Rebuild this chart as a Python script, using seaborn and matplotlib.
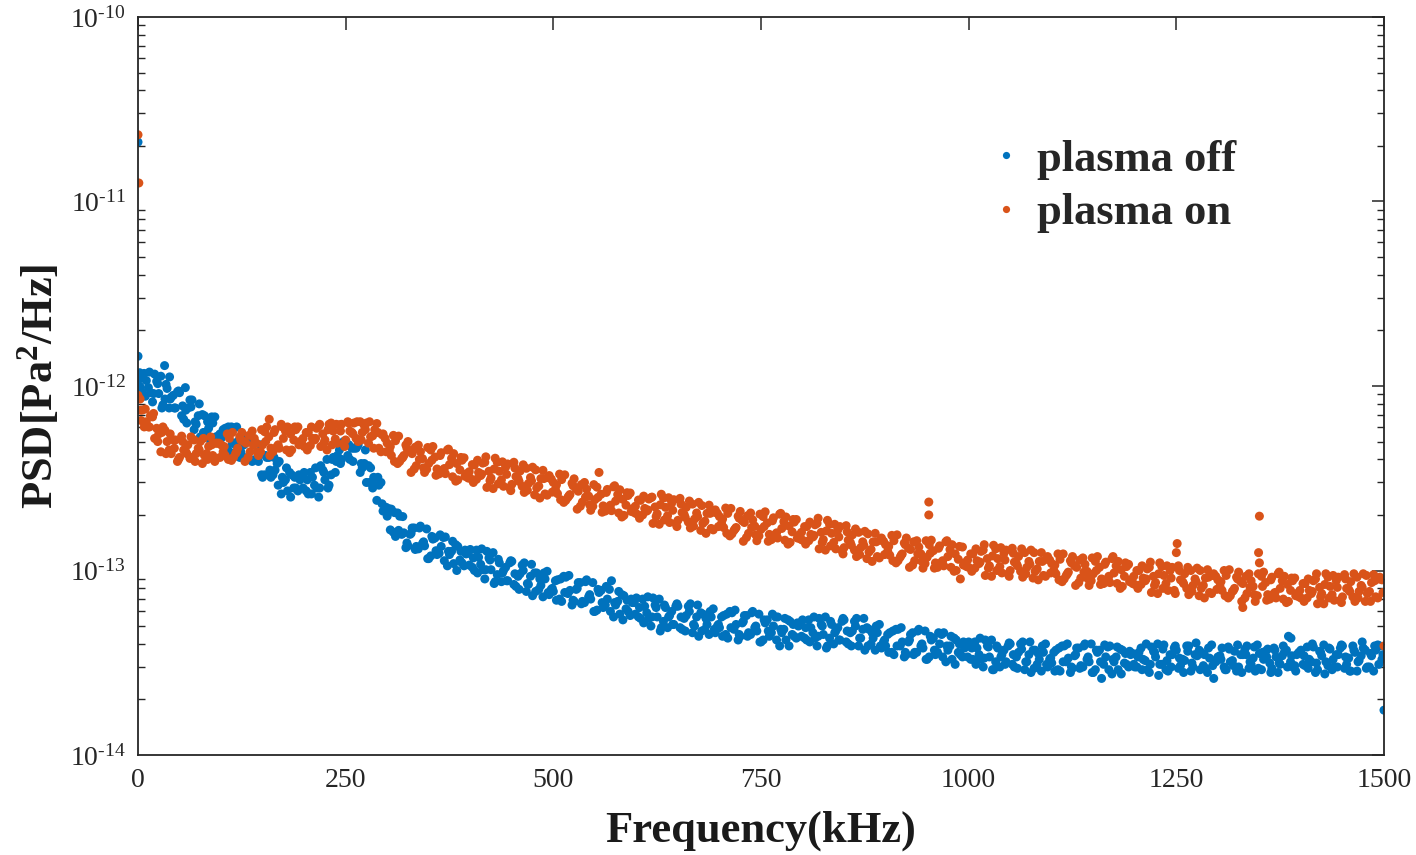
import numpy as np
import pandas as pd
import seaborn as sns
import matplotlib
matplotlib.use("Agg")
import matplotlib.pyplot as plt
from matplotlib.ticker import LogLocator, NullFormatter, FixedLocator

# ---------------- data (PSD values in units of 1e-14 Pa^2/Hz) ----------------
freq = np.arange(0, 1501, 5)         # kHz, grid A (0..1500)
freq_mid = np.arange(2.5, 1500, 5)   # kHz, grid B
freq_q = np.arange(3.75, 1500, 5)    # kHz, grid C

psd_off = [
    145, 92, 107, 92, 116, 91, 79, 97, 87, 76, 92, 66, 76, 84, 62, 53, 69, 59, 63, 51,
    52, 59, 44, 59, 50, 42, 52, 40, 50, 39, 32, 41, 32, 35, 39, 30, 27, 33, 28, 31,
    34, 26, 32, 28, 37, 31, 29, 41, 42, 40, 50, 40, 46, 48, 36, 30, 36, 29, 29, 21,
    19.7, 21.5, 15.3, 19.7, 16, 13.6, 17, 13.5, 17.4, 13.6, 11.6, 14.8, 12.2, 13.5, 15.2, 12.2, 10.9, 13.5, 11, 12.3,
    13, 10, 11.8, 10.1, 12.7, 10.1, 8.7, 11, 10, 8.8, 11.2, 8.2, 9.6, 11, 8.4, 7.3, 9.7, 8.3, 9, 7.4,
    7.7, 8.9, 6.8, 9.2, 7.8, 6.8, 8.6, 6.8, 8.9, 7.0, 6.0, 7.6, 6.3, 7.0, 8.8, 6.5, 5.8, 7.3, 6.0, 6.7,
    7.1, 5.5, 6.4, 5.5, 7.1, 5.6, 4.9, 6.3, 5.7, 5.1, 6.4, 4.8, 5.7, 6.6, 5.0, 4.4, 5.8, 5.1, 5.6, 4.6,
    4.9, 5.7, 4.3, 5.9, 5.1, 4.4, 5.7, 4.6, 6.0, 4.7, 4.1, 5.2, 4.4, 5.0, 5.6, 4.6, 4.2, 5.3, 4.4, 5.0,
    5.4, 4.2, 4.9, 4.3, 5.5, 4.5, 3.9, 5.1, 4.7, 4.2, 5.4, 4.0, 4.7, 5.5, 4.3, 3.7, 4.8, 4.3, 4.6, 3.8,
    3.9, 4.6, 3.5, 4.8, 4.1, 3.5, 4.5, 3.6, 4.8, 3.8, 3.3, 4.2, 3.5, 4.0, 4.6, 3.7, 3.3, 4.2, 3.5, 3.8,
    4.1, 3.3, 3.8, 3.3, 4.2, 3.4, 2.9, 3.8, 3.5, 3.2, 4.0, 3.0, 3.6, 4.1, 3.2, 2.8, 3.7, 3.3, 3.6, 3.0,
    3.15, 3.7, 2.85, 3.9, 3.35, 2.95, 3.8, 3.05, 4.0, 3.2, 2.8, 3.6, 2.6, 3.4, 3.9, 3.2, 2.9, 3.7, 3.1, 3.5,
    3.0, 3.6, 3.3, 2.9, 3.85, 3.4, 3.1, 3.95, 2.85, 3.5, 3.7, 3.05, 3.25, 3.9, 3.0, 3.45, 3.6, 2.95, 3.35, 2.6,
    3.4, 3.8, 2.9, 3.2, 3.65, 3.0, 3.5, 3.9, 3.1, 2.85, 3.55, 3.3, 3.75, 2.95, 3.4, 3.1, 3.6, 4.4, 3.0, 3.5,
    3.7, 3.05, 3.3, 3.85, 2.9, 3.45, 3.2, 3.75, 3.0, 3.5, 3.9, 3.1, 2.85, 3.6, 3.25, 3.8, 3.0, 3.45, 3.7, 3.9,
    1.75,
]

psd_off_mid = [
    99, 117, 98, 82, 106, 113, 85, 76, 89, 93, 69, 74, 84, 58, 69, 70, 56, 50, 68, 54,
    58, 46, 60, 48, 41, 48, 51, 39, 40, 48, 33, 41, 33, 38, 26, 31, 34, 28, 27, 32,
    27, 34, 29, 25, 35, 40, 33, 34, 45, 50, 42, 46, 46, 34, 38, 37, 28, 24, 30, 21,
    21.6, 16.1, 20.5, 15.7, 13.3, 15.7, 17, 13.1, 14, 16.8, 12, 15, 12.4, 15.1, 10.6, 12.7, 13.8, 11.4, 10.6, 12.4,
    10.4, 12.9, 10.8, 9.0, 11.7, 12.5, 9.5, 8.7, 10.4, 11, 8.4, 9.3, 10.7, 7.7, 9.3, 9.7, 7.9, 7.2, 9.9, 7.9,
    8.8, 7.0, 9.3, 7.5, 6.5, 7.9, 8.6, 6.7, 7.2, 8.6, 6.1, 7.8, 6.5, 7.9, 5.6, 6.8, 7.4, 6.2, 5.7, 6.7,
    5.6, 7.0, 5.9, 5.0, 6.5, 7.0, 5.3, 4.9, 6.0, 6.4, 4.9, 5.5, 6.4, 4.6, 5.6, 5.9, 4.8, 4.5, 6.2, 5.0,
    5.6, 4.5, 6.0, 4.8, 4.2, 5.2, 5.7, 4.5, 4.9, 5.8, 4.2, 5.4, 4.6, 5.6, 3.9, 4.8, 5.4, 4.5, 4.3, 5.1,
    4.3, 5.4, 4.6, 3.9, 5.1, 5.6, 4.3, 4.0, 4.9, 5.3, 4.1, 4.6, 5.3, 3.9, 4.8, 4.9, 4.0, 3.7, 5.1, 4.1,
    4.5, 3.6, 4.8, 3.9, 3.4, 4.1, 4.6, 3.6, 3.9, 4.7, 3.4, 4.3, 3.6, 4.5, 3.2, 3.9, 4.3, 3.6, 3.4, 3.9,
    3.3, 4.1, 3.5, 3.0, 3.9, 4.2, 3.2, 3.0, 3.7, 3.9, 3.1, 3.4, 4.0, 2.9, 3.5, 3.7, 3.1, 2.85, 4.0, 3.3,
    3.6, 2.9, 3.9, 3.2, 2.8, 3.45, 3.8, 3.0, 3.3, 4.0, 2.9, 3.7, 3.1, 3.85, 2.75, 3.4, 3.75, 3.15, 3.0, 3.55,
    3.0, 3.8, 3.25, 2.8, 3.65, 4.0, 3.1, 2.9, 3.5, 3.8, 2.95, 3.3, 3.9, 2.85, 3.5, 3.7, 3.05, 2.8, 3.95, 3.2,
    3.45, 3.0, 3.85, 3.25, 2.85, 3.5, 3.75, 2.95, 3.35, 3.95, 2.9, 3.65, 3.15, 3.8, 2.8, 3.45, 3.7, 3.2, 3.05, 3.6,
    3.1, 3.85, 3.2, 2.8, 3.65, 3.95, 3.05, 2.9, 3.5, 3.8, 2.95, 3.35, 3.9, 2.85, 3.45, 3.7, 3.0, 2.85, 3.95, 3.3,
]

psd_off_q = [
    110, 88, 119, 91, 103, 76, 102, 85, 76, 94, 78, 63, 77, 64, 80, 56, 64, 68, 53, 55,
    46, 60, 49, 60, 44, 49, 40, 50, 41, 33, 42, 35, 41, 29, 32, 36, 25, 32, 33, 28,
    31, 26, 36, 28, 34, 28, 40, 39, 38, 49, 48, 39, 47, 38, 45, 30, 32, 32, 23, 22,
    16.6, 20.6, 16.5, 19.6, 14.1, 15.9, 13, 17, 14.3, 11.6, 15.3, 12.8, 15.6, 11.3, 12.7, 14.4, 10, 12.7, 12.9, 10.7,
    11.7, 9.7, 13.1, 10.1, 11.4, 8.5, 11.5, 9.7, 8.8, 11.3, 9.6, 7.9, 10, 8.5, 10.8, 7.7, 9.0, 9.7, 7.6, 8.0,
    6.9, 9.0, 7.6, 9.4, 6.9, 8.0, 6.6, 8.7, 7.4, 6.0, 7.9, 6.7, 8.2, 6.0, 6.7, 7.7, 5.4, 6.9, 7.0, 5.8,
    6.3, 5.2, 7.2, 5.6, 6.3, 4.7, 6.5, 5.6, 5.1, 6.6, 5.6, 4.7, 6.0, 5.1, 6.5, 4.7, 5.5, 6.0, 4.8, 5.1,
    4.4, 5.8, 4.9, 6.1, 4.5, 5.3, 4.4, 5.9, 5.0, 4.1, 5.4, 4.7, 5.8, 4.2, 4.8, 5.5, 3.9, 5.1, 5.2, 4.4,
    4.9, 4.1, 5.6, 4.4, 5.0, 3.8, 5.3, 4.6, 4.2, 5.5, 4.7, 3.9, 5.0, 4.3, 5.5, 3.9, 4.6, 5.0, 3.9, 4.2,
    3.6, 4.7, 3.9, 4.9, 3.6, 4.2, 3.5, 4.7, 4.0, 3.3, 4.4, 3.7, 4.6, 3.4, 3.9, 4.4, 3.1, 4.0, 4.1, 3.4,
    3.8, 3.1, 4.3, 3.35, 3.85, 2.9, 3.9, 3.4, 3.1, 4.05, 3.5, 2.95, 3.75, 3.2, 4.1, 2.95, 3.55, 3.9, 3.1, 3.35,
    2.85, 3.8, 3.2, 4.0, 3.0, 3.5, 2.95, 3.9, 3.4, 2.8, 3.7, 3.2, 3.95, 2.9, 3.3, 3.85, 2.75, 3.55, 3.65, 3.1,
    3.4, 2.9, 4.0, 3.1, 3.6, 2.7, 3.75, 3.25, 3.0, 3.9, 3.35, 2.8, 3.65, 3.15, 4.05, 2.9, 3.5, 3.8, 3.05, 3.3,
    3.3, 2.9, 3.75, 3.05, 3.95, 2.8, 3.5, 3.2, 3.85, 2.95, 3.6, 3.4, 2.8, 3.7, 3.15, 3.9, 3.0, 3.45, 2.85, 3.6,
    3.45, 2.95, 4.0, 3.15, 3.6, 2.75, 3.8, 3.3, 3.0, 3.95, 3.4, 2.85, 3.7, 3.2, 4.1, 2.95, 3.55, 3.9, 3.1, 3.5,
]

psd_on = [
    89, 74, 64, 69, 52, 55, 60, 50, 43, 51, 41, 45, 48, 41, 43, 50, 42, 47, 42, 49,
    48, 42, 52, 41, 46, 56, 49, 44, 52, 42, 48, 60, 46, 58, 46, 52, 60, 45, 58, 50,
    47, 56, 52, 59, 47, 51, 62, 57, 49, 62, 51, 57, 63, 50, 56, 63, 53, 58, 46, 55,
    49, 42, 50.5, 39, 42, 50, 43, 37, 44, 34, 38, 47, 35.5, 43.5, 33.5, 37.5, 43, 31, 39.6, 33.4,
    31.6, 37.3, 34, 38.2, 28.2, 31.7, 40.6, 34.5, 28.6, 37.8, 29.3, 32.3, 34.6, 26.5, 29.6, 36.3, 28, 31.5, 26, 32.7,
    30, 26.1, 31.1, 24, 25.8, 31.4, 26.9, 23.5, 27.6, 21.2, 24.2, 34, 22.4, 27.5, 21.1, 23.8, 27.4, 19.9, 25.5, 21.6,
    20.3, 24, 21.7, 24.4, 18, 20.3, 25.9, 22, 18.2, 24.2, 18.7, 20.6, 22, 17, 19, 23.4, 18, 20.4, 16.9, 21.3,
    19.6, 17.1, 20.4, 15.8, 17.1, 20.9, 18.2, 15.9, 18.8, 14.5, 16.7, 20.8, 15.7, 19.3, 15, 16.9, 19.5, 14.2, 18.3, 15.5,
    14.6, 17.3, 15.7, 17.7, 13.1, 14.7, 18.7, 15.9, 13.1, 17.3, 13.3, 14.6, 15.6, 11.9, 13.3, 16.3, 12.6, 14.3, 11.9, 15,
    13.8, 12.1, 14.5, 11.3, 12.3, 15, 13, 11.3, 13.4, 10.3, 11.8, 14.6, 11, 13.6, 10.6, 11.9, 13.8, 10, 9.0, 11,
    10.4, 12.3, 11.3, 12.7, 9.4, 10.6, 13.7, 11.6, 9.7, 12.9, 10, 11.1, 11.9, 9.2, 10.4, 12.9, 9.9, 11.2, 9.4, 11.9,
    10.9, 9.6, 11.5, 9, 9.8, 11.9, 10.4, 9.1, 10.8, 8.3, 9.6, 11.9, 9, 11.1, 8.6, 9.7, 11.2, 8.2, 10.5, 8.9,
    8.4, 10, 9.1, 10.2, 7.6, 8.6, 11, 9.4, 7.8, 10.4, 12.5, 8.9, 9.6, 7.4, 8.3, 10.3, 8.0, 9.1, 7.6, 9.6,
    8.9, 7.8, 9.4, 7.3, 8.0, 9.8, 8.5, 7.5, 8.8, 6.8, 11.0, 9.8, 7.4, 9.2, 7.1, 8.0, 9.3, 6.8, 8.8, 7.5,
    7.1, 8.5, 7.8, 8.8, 6.6, 7.5, 9.6, 8.2, 6.9, 9.2, 7.2, 8.0, 8.7, 6.8, 7.7, 9.6, 7.5, 8.6, 7.2, 9.2,
    3.9,
]

psd_on_mid = [
    85, 60, 60, 68, 59, 44, 57.5, 45, 51, 39, 53.5, 44, 40.5, 51, 46, 38, 43, 53, 39, 49,
    44, 55, 39.5, 43, 53, 50, 41, 57, 49, 44, 56.5, 53, 44, 47, 62, 57, 43.5, 51, 60, 48,
    56, 47.6, 51, 60.5, 55, 45, 63, 51.6, 61.6, 48.6, 64, 56, 52, 64, 61, 49, 53.7, 62.6, 44, 52,
    44.6, 54, 38, 40.5, 47.9, 44.2, 35.5, 47.8, 40.4, 35.4, 45, 41.2, 33.4, 35.1, 45, 40.5, 30.5, 35.1, 40.8, 31.7,
    37.5, 31.2, 32.7, 38.6, 34.5, 27.8, 38.6, 31, 36.3, 28.1, 38.6, 31.5, 28.6, 35.8, 31.9, 25.7, 28.7, 34.9, 25.6, 31.3,
    27.5, 33.3, 23.4, 24.9, 29.7, 27.7, 22.3, 30, 25.3, 22.3, 28.3, 25.9, 21, 22.2, 28.4, 25.8, 19.5, 22.6, 26.3, 20.6,
    24.1, 20, 21, 24.8, 22.1, 17.8, 24.7, 19.8, 23.2, 18, 24.6, 20.1, 18.3, 22.9, 20.5, 16.5, 18.5, 22.6, 16.6, 20.4,
    18, 21.8, 15.4, 16.5, 19.7, 18.6, 15.1, 20.5, 17.4, 15.4, 19.6, 18.1, 14.7, 15.7, 20.2, 18.4, 13.9, 16.2, 18.9, 14.8,
    17.3, 14.5, 15.2, 18, 16.1, 12.9, 17.8, 14.2, 16.6, 12.8, 17.5, 14.2, 12.9, 16.1, 14.3, 11.6, 13, 15.9, 11.7, 14.4,
    12.7, 15.5, 11, 11.8, 14.1, 13.2, 10.7, 14.5, 12.3, 10.9, 13.8, 12.8, 10.4, 11.1, 14.3, 13, 9.9, 11.5, 13.4, 10.5,
    12.3, 10.3, 10.9, 12.9, 11.6, 9.3, 13.1, 10.5, 12.4, 9.6, 13.2, 10.9, 9.9, 12.5, 11.2, 9.1, 10.2, 12.5, 9.3, 11.4,
    10, 12.3, 8.7, 9.4, 11.3, 10.6, 8.6, 11.7, 9.9, 8.8, 11.2, 10.4, 8.5, 9, 11.6, 10.6, 8, 9.3, 10.8, 8.5,
    10, 8.4, 8.8, 10.4, 9.3, 7.5, 10.5, 8.5, 10, 7.8, 10.6, 8.7, 8, 10, 9, 7.3, 8.3, 10.1, 7.5, 9.3,
    8.2, 10, 7.1, 7.7, 9.2, 8.7, 7.1, 9.6, 8.2, 7.3, 9.3, 8.6, 7.0, 7.5, 9.6, 8.8, 6.7, 7.8, 9.1, 7.2,
    8.5, 7.1, 7.5, 9.0, 8.1, 6.6, 9.2, 7.4, 8.8, 6.9, 9.5, 7.9, 7.2, 9.2, 8.3, 6.8, 7.7, 9.5, 7.1, 8.9,
]

psd_on_q = [
    65, 75, 60, 71, 50, 56, 43, 55, 46, 40, 50, 43, 53, 39, 45, 52, 40, 48, 49, 41,
    47, 40, 56, 44, 51, 39, 54, 48, 44, 58, 50, 42, 56, 48, 60, 45, 55, 60, 48, 52,
    45, 60, 52, 62, 49, 58, 48, 62, 57, 47, 63, 55, 64, 51, 58, 64, 46, 56, 54.5, 44,
    47, 39, 53.5, 41, 46, 34, 46.6, 40, 36, 46.4, 39.6, 32.8, 42, 35.7, 45.5, 32.2, 38, 41, 32.4, 34.3,
    30, 39.6, 33.3, 41.3, 30.7, 35.5, 29.5, 38.8, 33.2, 27.1, 35.9, 30.4, 37.4, 27.2, 30.6, 35.1, 24.7, 31.5, 31.9, 26.6,
    29.1, 24.2, 33, 25.4, 28.8, 21.5, 29.2, 25, 22.7, 29.2, 24.9, 20.7, 26.5, 22.6, 28.8, 20.5, 24.3, 26.4, 20.9, 22.3,
    19.2, 25.3, 21.3, 25, 19.6, 22.7, 18.8, 24.8, 21.2, 17.3, 22.9, 19.4, 23.8, 17.4, 19.6, 22.5, 15.9, 20.4, 20.7, 17.3,
    19, 15.9, 21.7, 16.8, 19.2, 14.4, 19.8, 17.1, 15.6, 20.2, 17.3, 14.4, 18.6, 16, 20.4, 14.6, 17.4, 18.9, 15, 16.1,
    13.9, 18.3, 15.5, 19.2, 14.2, 16.4, 13.6, 17.8, 15.2, 12.3, 16.2, 13.7, 16.8, 12.2, 13.7, 15.8, 11.2, 14.3, 14.6, 12.2,
    13.5, 11.3, 15.6, 12.1, 13.8, 10.4, 14.3, 12.3, 11.2, 14.5, 12.4, 10.3, 13.2, 11.3, 14.5, 10.4, 12.3, 13.5, 10.7, 11.4,
    9.9, 13.1, 11.1, 13.8, 10.3, 12, 10, 13.3, 11.4, 9.3, 12.4, 10.6, 13.1, 9.6, 10.8, 12.5, 8.9, 11.2, 11.5, 9.7,
    10.7, 8.9, 12.3, 9.6, 11, 8.3, 11.4, 9.8, 9, 11.7, 10, 8.4, 10.8, 9.3, 11.9, 8.5, 10.1, 11, 8.7, 9.3,
    8, 10.6, 9, 11.1, 8.3, 9.6, 8, 10.6, 9.1, 7.5, 10, 8.5, 10.4, 7.7, 8.7, 10, 7.1, 9.2, 9.4, 7.9,
    8.7, 7.3, 10.1, 7.8, 9, 6.8, 9.3, 8.1, 7.4, 9.6, 8.2, 6.9, 8.9, 7.6, 9.8, 7, 8.4, 9.1, 7.3, 7.8,
    6.8, 9.0, 7.7, 9.6, 7.2, 8.4, 7.1, 9.4, 8.1, 6.7, 9.0, 7.7, 9.6, 7.1, 8.1, 9.4, 6.8, 8.8, 9.0, 7.6,
]

# isolated points (frequency kHz, PSD in 1e-14)
extra_off_f = [0, 1, 2, 32, 38, 57, 1388]
extra_off_v = [2100, 100, 118, 129, 112, 98, 4.3]
extra_on_f = [0, 1, 3, 952, 952, 1251, 1349, 1350, 1330, 158]
extra_on_v = [2300, 1260, 74, 23.5, 20.0, 14.0, 12.5, 19.7, 6.3, 66]

series_names = ["plasma off", "plasma on"]
series_colors = ["#0072BD", "#D95319"]
unit = 1e-14

x_ticks = [0, 250, 500, 750, 1000, 1250, 1500]
y_exps = [-14, -13, -12, -11, -10]

# ---------------- build table ----------------
df_off = pd.DataFrame({
    "f": np.concatenate([freq, freq_mid, freq_q, extra_off_f]),
    "psd": np.concatenate([psd_off, psd_off_mid, psd_off_q, extra_off_v]) * unit,
    "series": series_names[0],
})
df_on = pd.DataFrame({
    "f": np.concatenate([freq, freq_mid, freq_q, extra_on_f]),
    "psd": np.concatenate([psd_on, psd_on_mid, psd_on_q, extra_on_v]) * unit,
    "series": series_names[1],
})
df = pd.concat([df_off, df_on], ignore_index=True)

# ---------------- style ----------------
sns.set_style("white")
plt.rcParams["font.family"] = ["Liberation Serif", "DejaVu Serif"]
plt.rcParams["mathtext.fontset"] = "custom"
plt.rcParams["mathtext.rm"] = "Liberation Serif"
plt.rcParams["mathtext.it"] = "Liberation Serif:italic"
plt.rcParams["mathtext.bf"] = "Liberation Serif:bold"

fig = plt.figure(figsize=(14.16, 8.55), dpi=100)
ax = fig.add_axes([138 / 1416, 1 - 755 / 855, (1384 - 138) / 1416, (755 - 17) / 855])

sns.scatterplot(data=df, x="f", y="psd", hue="series", hue_order=series_names,
                palette=series_colors, s=42, edgecolor="none", linewidth=0,
                alpha=1.0, ax=ax, legend=True)

ax.set_yscale("log")
ax.set_xlim(0, 1500)
ax.set_ylim(1e-14, 1e-10)

ax.xaxis.set_major_locator(FixedLocator(x_ticks))
ax.set_xticklabels([str(t) for t in x_ticks])
ax.yaxis.set_major_locator(FixedLocator([10.0 ** e for e in y_exps]))
ax.set_yticklabels([r"$10^{\text{-%d}}$" % abs(e) for e in y_exps])
ax.yaxis.set_minor_locator(LogLocator(base=10, subs=np.arange(2, 10)))
ax.yaxis.set_minor_formatter(NullFormatter())

spine_col = "#262626"
for sp in ax.spines.values():
    sp.set_visible(True)
    sp.set_color(spine_col)
    sp.set_linewidth(1.3)

ax.tick_params(axis="both", which="major", direction="in", length=9, width=1.1,
               color=spine_col, labelsize=20, top=True, right=True, pad=9,
               labelcolor="#262626")
ax.tick_params(axis="y", which="minor", direction="in", length=5, width=1.0,
               color=spine_col, right=True, left=True)
ax.tick_params(axis="x", which="minor", bottom=False, top=False)

ax.set_xlabel("Frequency(kHz)", fontsize=32, fontweight="bold", labelpad=13, color="#1a1a1a")
ax.set_ylabel(r"PSD[Pa$^{\mathbf{2}}$/Hz]", fontsize=32, fontweight="bold", labelpad=6, color="#1a1a1a")

sns.move_legend(ax, "upper left", bbox_to_anchor=(0.666, 0.858), frameon=False,
                title=None, fontsize=32, markerscale=0.8, handletextpad=0.25,
                labelspacing=0.3, borderaxespad=0.0, handlelength=0.9)
for t in ax.get_legend().get_texts():
    t.set_fontweight("bold")

fig.savefig("out.png", dpi=100, facecolor="white")
